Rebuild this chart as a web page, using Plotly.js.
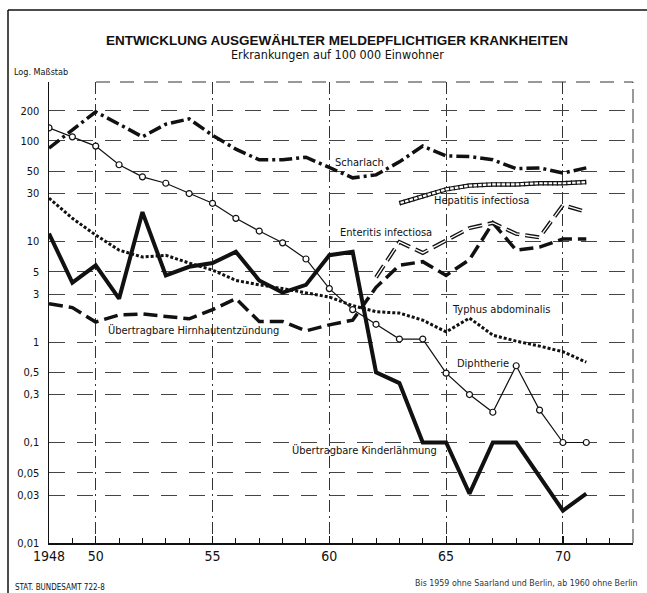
<!DOCTYPE html>
<html>
<head>
<meta charset="utf-8">
<script src="https://cdn.plot.ly/plotly-3.0.1.min.js"></script>
<style>
html,body{margin:0;padding:0;background:#fff;}
#chart{width:647px;height:593px;}
</style>
</head>
<body>
<div id="chart"></div>
<script>
// ---- data (values per 100 000 inhabitants) ----
var years = [1948,1949,1950,1951,1952,1953,1954,1955,1956,1957,1958,1959,1960,1961,1962,1963,1964,1965,1966,1967,1968,1969,1970,1971];
var scharlach      = [85,130,195,147,110,147,166,114,83,65,65,69,54,43,46,62,89,71,70,65,53,54,48,54];
var diphtherie     = [135,110,89,58,44,38,30,24,17,12.7,9.7,6.7,3.4,2.1,1.5,1.07,1.07,0.49,0.30,0.20,0.58,0.21,0.1,0.1];
var kinderlaehmung = [12,3.9,5.8,2.7,19.6,4.6,5.6,6.1,7.9,4.1,3.1,3.7,7.3,7.9,0.50,0.39,0.1,0.1,0.031,0.1,0.1,0.045,0.021,0.031];
var typhus         = [27,17,11.6,8.2,7.0,7.3,6.1,5.2,4.1,3.7,3.4,3.1,2.8,2.3,2.0,1.94,1.65,1.26,1.73,1.17,1.02,0.91,0.80,0.63];
var hirnhaut       = [2.4,2.2,1.58,1.86,1.9,1.8,1.7,2.1,2.7,1.6,1.6,1.29,1.48,1.65,3.5,5.8,6.3,4.6,6.6,15.3,8.2,8.8,10.6,10.6];
var enteritisYears = [1962,1963,1964,1965,1966,1967,1968,1969,1970,1971];
var enteritis      = [4.4,9.9,7.7,10.3,13.6,15.3,11.9,11,23,19.7];
var hepatitisYears = [1963,1964,1965,1966,1967,1968,1969,1970,1971];
var hepatitis      = [24,28,33,36,37,37,38,38,39];

var yTickVals = [0.01,0.03,0.05,0.1,0.3,0.5,1,3,5,10,30,50,100,200];
var yTickText = ['0,01','0,03','0,05','0,1','0,3','0,5','1','3','5','10','30','50','100','200'];
var xTickVals = [1948,1950,1955,1960,1965,1970];
var xTickText = ['1948','50','55','60','65','70'];

var seriesLabels = [
  {text:'Scharlach', x:1960.15, y:1.79},
  {text:'Hepatitis infectiosa', x:1964.4, y:1.41},
  {text:'Enteritis infectiosa', x:1960.35, y:1.09},
  {text:'Typhus abdominalis', x:1965.15, y:0.32},
  {text:'Übertragbare Hirnhautentzündung', x:1950.45, y:0.11},
  {text:'Diphtherie', x:1965.4, y:-0.21},
  {text:'Übertragbare Kinderlähmung', x:1958.3, y:-1.08}
];

var FONT = '"DejaVu Sans Condensed", "Liberation Sans Narrow", "Liberation Sans", sans-serif';
var K = '#111';

var traces = [
  {x:years, y:scharlach, mode:'lines', line:{color:K, width:3.5, dash:'13px,4px,3px,4px'}},
  {x:years, y:typhus, mode:'lines', line:{color:K, width:3, dash:'3px,2px'}},
  {x:years, y:hirnhaut, mode:'lines', line:{color:K, width:3.5, dash:'14px,6px'}},
  // Enteritis: hollow dashed band
  {x:enteritisYears, y:enteritis, mode:'lines', line:{color:K, width:4, dash:'14px,6px'}},
  {x:enteritisYears, y:enteritis, mode:'lines', line:{color:'#fff', width:1.3, dash:'14px,6px'}},
  // Hepatitis: ladder
  {x:hepatitisYears, y:hepatitis, mode:'lines', line:{color:K, width:4.5}},
  {x:hepatitisYears, y:hepatitis, mode:'lines', line:{color:'#fff', width:2.2}},
  {x:hepatitisYears, y:hepatitis, mode:'lines', line:{color:K, width:4.5, dash:'1.2px,3.5px'}},
  {x:years, y:kinderlaehmung, mode:'lines', line:{color:K, width:4}},
  {x:years, y:diphtherie, mode:'lines+markers', line:{color:K, width:1.2},
   marker:{symbol:'circle', size:6, color:'#fff', line:{color:K, width:1.2}}}
];
traces.forEach(function(t){t.showlegend=false; t.hoverinfo='skip';});

var annotations = seriesLabels.map(function(l){
  return {text:l.text, x:l.x, y:l.y, xref:'x', yref:'y', xanchor:'left', yanchor:'middle',
          showarrow:false, bgcolor:'rgba(255,255,255,0)', font:{family:FONT, size:11, color:K}};
});
annotations.push(
  {text:'<b>ENTWICKLUNG AUSGEWÄHLTER MELDEPFLICHTIGER KRANKHEITEN</b>', xref:'paper', yref:'paper',
   x:(337-49)/584, y:(543-40)/461, xanchor:'center', yanchor:'middle', showarrow:false,
   font:{family:'"Liberation Sans", sans-serif', size:13.5, color:K}},
  {text:'Erkrankungen auf 100 000 Einwohner', xref:'paper', yref:'paper',
   x:(337-49)/584, y:(543-55)/461, xanchor:'center', yanchor:'middle', showarrow:false,
   font:{family:FONT, size:12.5, color:K}},
  {text:'Log. Maßstab', xref:'paper', yref:'paper',
   x:(12-49)/584, y:(543-72)/461, xanchor:'left', yanchor:'middle', showarrow:false,
   font:{family:FONT, size:9, color:K}},
  {text:'STAT. BUNDESAMT 722-8', xref:'paper', yref:'paper',
   x:(13-49)/584, y:(543-587)/461, xanchor:'left', yanchor:'middle', showarrow:false,
   font:{family:FONT, size:8, color:K}},
  {text:'Bis 1959 ohne Saarland und Berlin, ab 1960 ohne Berlin', xref:'paper', yref:'paper',
   x:(640-49)/584, y:(543-583)/461, xanchor:'right', yanchor:'middle', showarrow:false,
   font:{family:FONT, size:8.8, color:'#333'}}
);

var shapes = [
  // outer frame
  {type:'line', xref:'paper', yref:'paper', x0:(8-49)/584, x1:(647-49)/584, y0:(543-10)/461, y1:(543-10)/461, line:{color:K, width:1.5}},
  {type:'line', xref:'paper', yref:'paper', x0:(8-49)/584, x1:(8-49)/584, y0:(543-10)/461, y1:(543-593)/461, line:{color:K, width:1.5}},
  // top and right dashed border of the plot
  {type:'line', xref:'paper', yref:'paper', x0:(96-49)/584, x1:1, y0:1, y1:1, line:{color:'#333', width:1, dash:'14px,10px'}},
  {type:'line', xref:'paper', yref:'paper', x0:1, x1:1, y0:0, y1:1, line:{color:'#333', width:1, dash:'14px,6px'}}
];

var layout = {
  width:647, height:593,
  margin:{l:49, r:14, t:82, b:50, pad:0},
  paper_bgcolor:'#fff', plot_bgcolor:'#fff',
  font:{family:FONT, color:K},
  xaxis:{range:[1948,1973], tickvals:xTickVals, ticktext:xTickText, showgrid:true,
         gridcolor:'#333', gridwidth:1, griddash:'12px,4px,2px,4px', zeroline:false,
         showline:true, linecolor:K, linewidth:1.5, ticks:'inside', ticklen:7, tickwidth:1.2, tickcolor:K,
         minor:{dtick:1, tick0:1948, ticks:'inside', ticklen:5, tickwidth:1, tickcolor:K, showgrid:false},
         tickfont:{family:FONT, size:14, color:K}, fixedrange:true},
  yaxis:{type:'log', range:[-2, 2.587], tickvals:yTickVals, ticktext:yTickText, showgrid:true,
         gridcolor:'#444', gridwidth:1, griddash:'16px,12px', zeroline:false,
         showline:true, linecolor:K, linewidth:1.5, ticks:'', ticklabelstandoff:6,
         tickfont:{family:FONT, size:11, color:K}, fixedrange:true},
  annotations:annotations,
  shapes:shapes
};

Plotly.newPlot('chart', traces, layout, {staticPlot:true, displayModeBar:false});
</script>
</body>
</html>
